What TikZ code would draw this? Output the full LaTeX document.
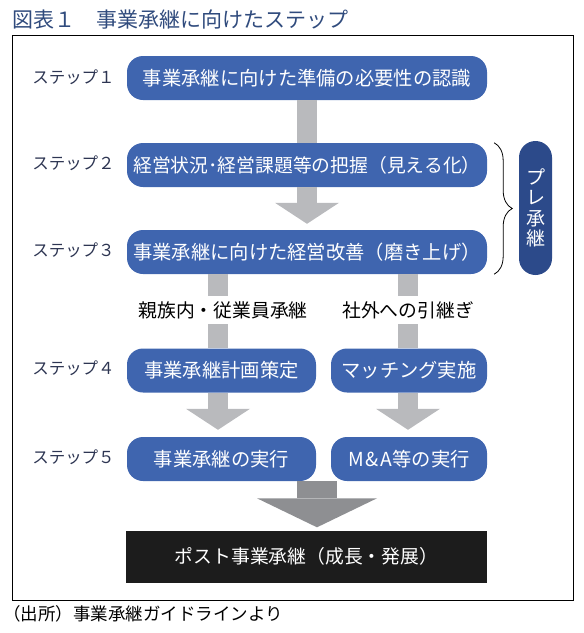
\documentclass[tikz,border=0pt]{standalone}
\usepackage{fontspec}
\setmainfont{Noto Sans CJK JP}
\usetikzlibrary{arrows.meta,decorations.pathreplacing}
\definecolor{boxblue}{RGB}{63,101,175}
\definecolor{pillblue}{RGB}{44,74,138}
\definecolor{lgray}{RGB}{185,186,189}
\definecolor{dgray}{RGB}{142,143,146}
\definecolor{postblack}{RGB}{28,28,28}
\definecolor{titleblue}{RGB}{48,75,125}
\definecolor{lblcol}{RGB}{45,53,82}
\begin{document}
\begin{tikzpicture}[x=1pt,y=-1pt,
  stepbox/.style={fill=boxblue, rounded corners=16pt, text=white,
    font=\fontsize{19.3}{23}\selectfont, minimum height=44pt, inner sep=0pt},
  steplbl/.style={text=lblcol, font=\fontsize{16.5}{20}\selectfont, inner sep=0pt},
  midlbl/.style={text=black, font=\fontsize{18.8}{22}\selectfont, inner sep=0pt, minimum height=28pt},
  pillbox/.style={fill=pillblue, rounded corners=16.5pt, text=white, align=center,
    font=\fontsize{19}{20.5}\selectfont, minimum width=33pt, minimum height=134pt, inner sep=0pt},
  postbox/.style={fill=postblack, text=white, font=\fontsize{18.8}{22}\selectfont,
    minimum width=361pt, minimum height=52pt, inner sep=0pt},
  lshaft/.style={draw=lgray, line width=20pt},
  larrow/.style={lshaft, -{Triangle[width=64pt,length=21pt,line width=0pt]}},
  darrow/.style={draw=dgray, line width=40pt, -{Triangle[width=120pt,length=29pt,line width=0pt]}},
  bracestyle/.style={draw=black, line width=0.8pt, decorate, decoration={brace, amplitude=18pt}}
]
\useasboundingbox (0,0) rectangle (584,633);

% title and frame
\node[anchor=west, inner sep=0pt, text=titleblue, font=\fontsize{21}{24}\selectfont] (title) at (12,20) {図表１　事業承継に向けたステップ};
\node[draw=black, line width=1pt, minimum width=561pt, minimum height=565pt, inner sep=0pt] (frame) at (292.5,317.5) {};

% step boxes
\node[stepbox, minimum width=360pt] (s1) at (307,78) {事業承継に向けた準備の必要性の認識};
\node[stepbox, minimum width=360pt, font=\fontsize{18.8}{23}\selectfont] (s2) at (307,165) {経営状況･経営課題等の把握（見える化）};
\node[stepbox, minimum width=360pt] (s3) at (307,252) {事業承継に向けた経営改善（磨き上げ）};
\node[stepbox, minimum width=189pt] (s4a) at (221.5,370.5) {事業承継計画策定};
\node[stepbox, minimum width=156pt] (s4b) at (409,370.5) {マッチング実施};
\node[stepbox, minimum width=189pt] (s5a) at (221.5,459) {事業承継の実行};
\node[stepbox, minimum width=156pt] (s5b) at (409,459) {M\hspace{2pt}\&\hspace{2pt}A等の実行};
\node[postbox] (post) at (306.5,556.5) {ポスト事業承継（成長・発展）};

% step labels
\node[steplbl] (l1) at (73.5,77) {ステップ１};
\node[steplbl] (l2) at (73.5,163) {ステップ２};
\node[steplbl] (l3) at (73.5,250) {ステップ３};
\node[steplbl] (l4) at (73.5,368) {ステップ４};
\node[steplbl] (l5) at (73.5,457) {ステップ５};

% branch labels
\node[midlbl] (lblL) at (223,310) {親族内・従業員承継};
\node[midlbl] (lblR) at (408,310) {社外への引継ぎ};

% pre-succession pill and brace
\node[pillbox] (pre) at (535.5,208) {プ\\レ\\承\\継};
\draw[bracestyle] ([xshift=7pt]s2.north east) -- ([xshift=7pt]s3.south east);

% arrow axes
\coordinate (xm) at (307,0);
\coordinate (xl) at (218,0);
\coordinate (xr) at (408,0);
\coordinate (xb) at (317,0);

% connectors
\draw[lshaft] (s1.south -| xm) -- (s2.north -| xm);
\draw[larrow, shorten >=6pt] (s2.south -| xm) -- (s3.north -| xm);
\draw[lshaft] (s3.south -| xl) -- (lblL.north -| xl);
\draw[lshaft] (lblL.south -| xl) -- (s4a.north -| xl);
\draw[lshaft] (s3.south -| xr) -- (lblR.north -| xr);
\draw[lshaft] (lblR.south -| xr) -- (s4b.north -| xr);
\draw[larrow, shorten >=7pt] (s4a.south -| xl) -- (s5a.north -| xl);
\draw[larrow, shorten >=7pt] (s4b.south -| xr) -- (s5b.north -| xr);
\draw[darrow, shorten >=3pt] (s5a.south -| xb) -- (post.north -| xb);

% source
\node[anchor=west, inner sep=0pt, text=black, font=\fontsize{17.5}{20}\selectfont] (src) at (3,614) {（出所）事業承継ガイドラインより};
\end{tikzpicture}
\end{document}
